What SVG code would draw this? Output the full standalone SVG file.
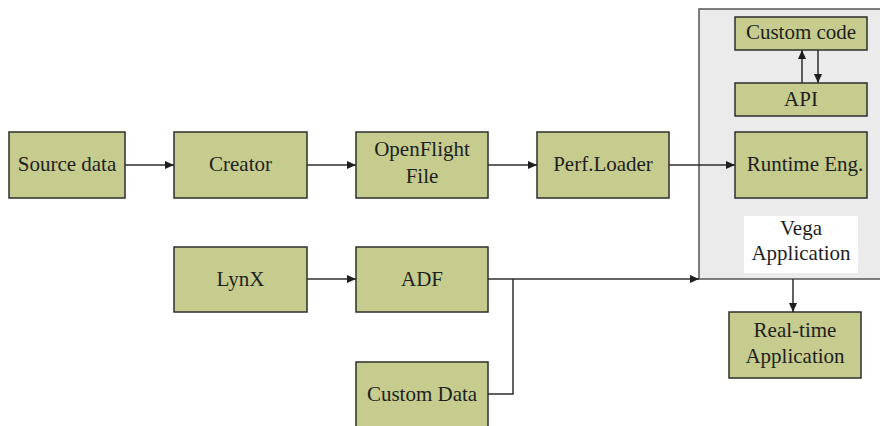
<svg xmlns="http://www.w3.org/2000/svg" width="880" height="426" viewBox="0 0 880 426">
<style>
.n{fill:#c5cc8e;stroke:#2e2e2e;stroke-width:1.5}
.t{font-family:'Liberation Serif','Times New Roman','DejaVu Serif',serif;font-size:21px;fill:#1e1e1e;text-anchor:middle}
.c{fill:none;stroke:#2e2e2e;stroke-width:1.5}
</style>
<defs>
<marker id="a" markerWidth="9" markerHeight="8" refX="9" refY="4" orient="auto" markerUnits="userSpaceOnUse">
<path d="M0,0 L9,4 L0,8 Z" fill="#1e1e1e"/>
</marker>
</defs>
<g id="vega">
<rect x="699" y="9" width="190" height="270" fill="#ebebeb" stroke="#555" stroke-width="1.5"/>
<rect x="744" y="216" width="114" height="57" fill="#fff"/>
<text class="t" x="801" y="235">Vega</text>
<text class="t" x="801" y="260">Application</text>
</g>
<g id="source"><rect class="n" x="9" y="132" width="116" height="66"/><text class="t" x="67" y="171">Source data</text></g>
<g id="creator"><rect class="n" x="174" y="132" width="133" height="66"/><text class="t" x="240.5" y="171">Creator</text></g>
<g id="openflight"><rect class="n" x="356" y="132" width="132" height="66"/><text class="t" x="422" y="156">OpenFlight</text><text class="t" x="422" y="183">File</text></g>
<g id="perfloader"><rect class="n" x="537" y="132" width="132" height="66"/><text class="t" x="603" y="171">Perf.Loader</text></g>
<g id="customcode"><rect class="n" x="735" y="17" width="132" height="33"/><text class="t" x="801" y="39">Custom code</text></g>
<g id="api"><rect class="n" x="735" y="83" width="132" height="33"/><text class="t" x="801" y="106">API</text></g>
<g id="runtime"><rect class="n" x="735" y="132" width="132" height="66"/><text class="t" x="805" y="171">Runtime Eng.</text></g>
<g id="lynx"><rect class="n" x="174" y="247" width="133" height="65"/><text class="t" x="240.5" y="286">LynX</text></g>
<g id="adf"><rect class="n" x="356" y="247" width="132" height="65"/><text class="t" x="422" y="286">ADF</text></g>
<g id="customdata"><rect class="n" x="356" y="362" width="132" height="70"/><text class="t" x="422" y="401">Custom Data</text></g>
<g id="realtime"><rect class="n" x="729" y="312" width="132" height="66"/><text class="t" x="795" y="337">Real-time</text><text class="t" x="795" y="363">Application</text></g>
<g id="connectors">
<path class="c" d="M125,165 H174" marker-end="url(#a)"/>
<path class="c" d="M307,165 H356" marker-end="url(#a)"/>
<path class="c" d="M488,165 H537" marker-end="url(#a)"/>
<path class="c" d="M669,165 H735" marker-end="url(#a)"/>
<path class="c" d="M307,279 H356" marker-end="url(#a)"/>
<path class="c" d="M488,279 H699" marker-end="url(#a)"/>
<path class="c" d="M488,394 H513 V279"/>
<path class="c" d="M802,83 V50" marker-end="url(#a)"/>
<path class="c" d="M818,50 V83" marker-end="url(#a)"/>
<path class="c" d="M793,279 V312" marker-end="url(#a)"/>
</g>
</svg>
